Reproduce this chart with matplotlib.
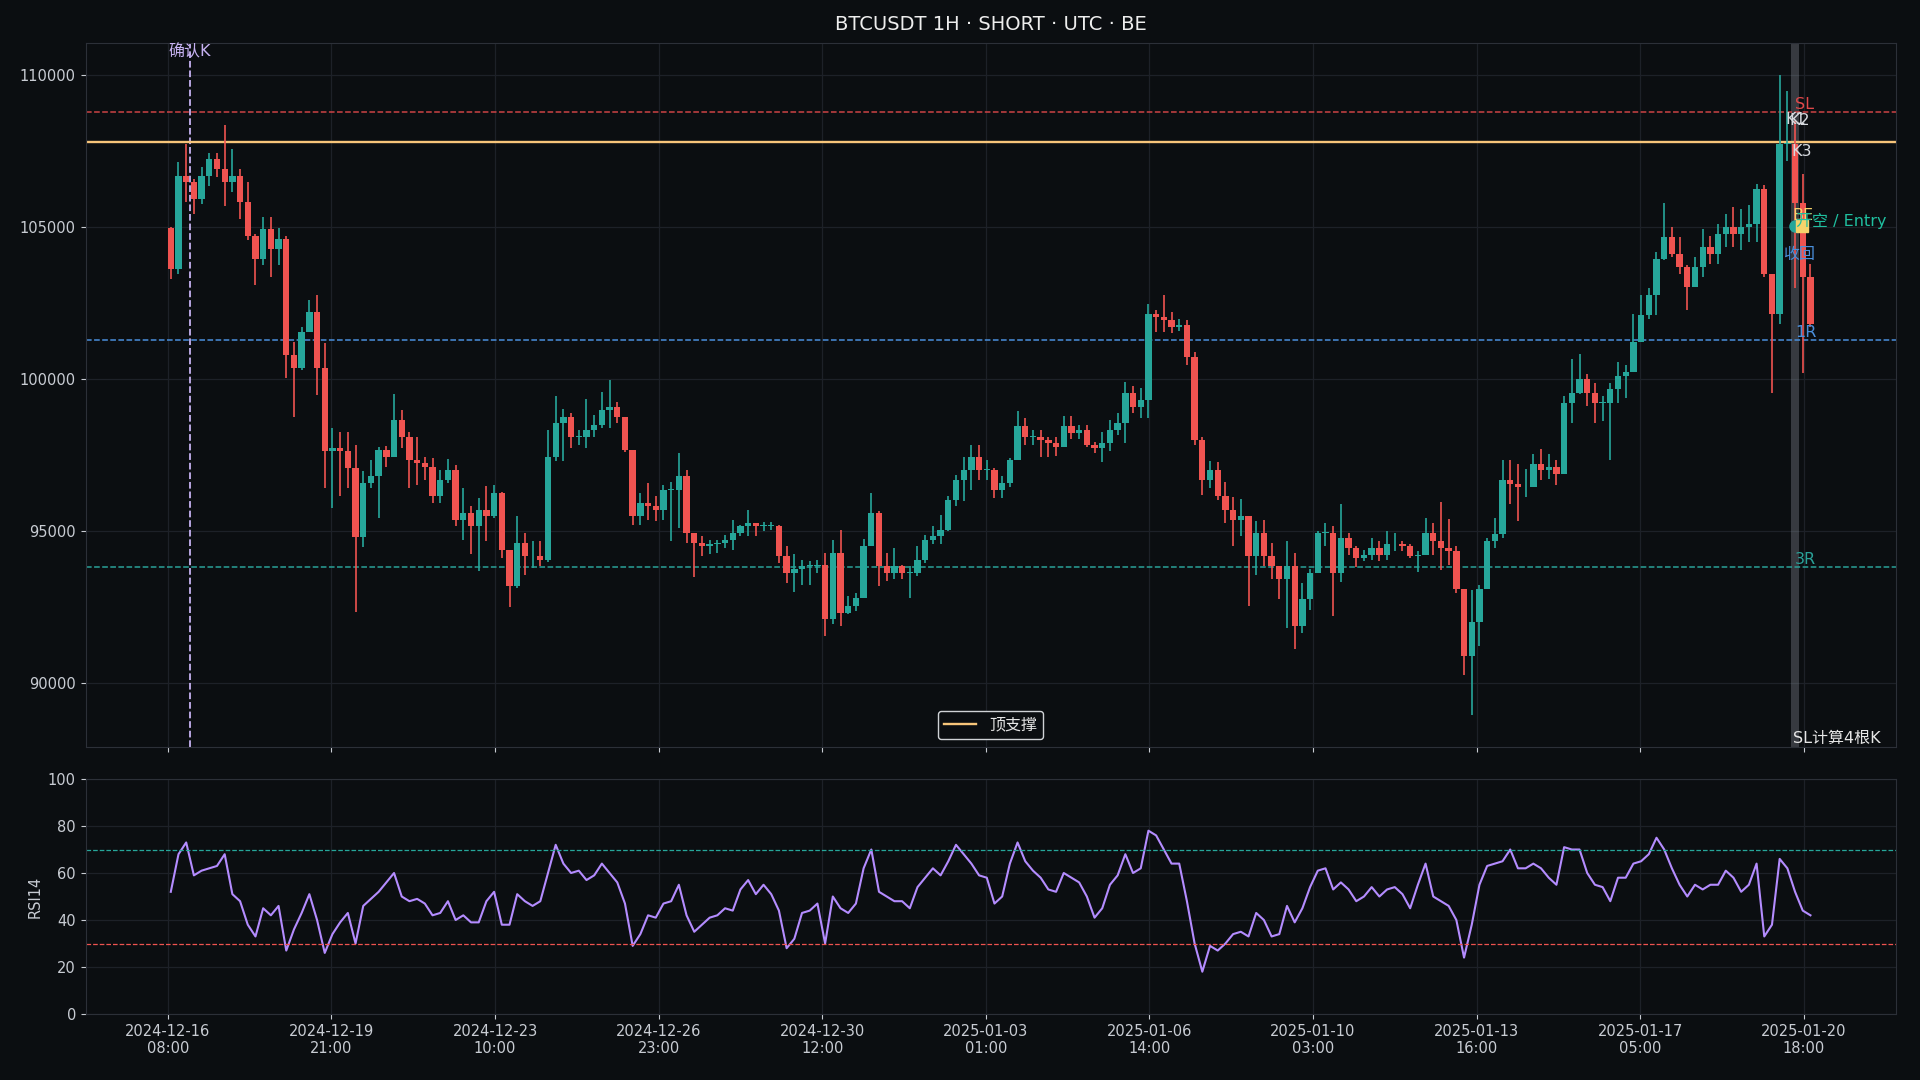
import matplotlib
matplotlib.use("Agg")
import matplotlib.pyplot as plt
import matplotlib.transforms as mtransforms
import numpy as np

plt.rcParams['font.family'] = ['DejaVu Sans', 'Noto Sans CJK SC']
plt.rcParams['axes.unicode_minus'] = False

# price, grouped in 4h blocks (x axis = hour index from 2024-12-16 08:00)
first_open = 104970
closes = [
    103640, 106700, 106500, 105930, 106700, 107250, 106920, 106480, 106700, 105830,
    104730, 103970, 104950, 104300, 104620, 100800, 100360, 101560, 102220, 100360,
    97630, 97740, 97630, 97080, 94800, 96600, 96810, 97680, 97460, 98660,
    98120, 97350, 97240, 97130, 96150, 96700, 97030, 95390, 95600, 95170,
    95710, 95500, 96260, 94400, 93200, 94620, 94180, 94180, 94070, 97460,
    98560, 98770, 98120, 98120, 98340, 98500, 98990, 99100, 98770, 97680,
    95500, 95930, 95820, 95710, 96370, 96370, 96810, 94950, 94620, 94510,
    94570, 94620, 94730, 94950, 95170, 95280, 95170, 95170, 95170, 94180,
    93640, 93750, 93860, 93860, 93910, 92110, 94290, 92330, 92540, 92820,
    94510, 95600, 93860, 93640, 93860, 93640, 93640, 94070, 94730, 94840,
    95060, 96040, 96700, 97030, 97460, 97030, 97030, 96370, 96590, 97350,
    98450, 98120, 98120, 98010, 97900, 97790, 98450, 98230, 98340, 97850,
    97740, 97900, 98340, 98560, 99540, 99100, 99320, 102160, 102050, 101940,
    101730, 101780, 100740, 98010, 96700, 97030, 96150, 95710, 95390, 95500,
    94180, 94950, 94180, 93860, 93420, 93860, 91890, 92760, 93640, 94950,
    94950, 93640, 94790, 94460, 94120, 94230, 94460, 94230, 94570, 94570,
    94510, 94180, 94230, 94960, 94680, 94460, 94340, 93120, 90900, 92010,
    93120, 94680, 94900, 96680, 96560, 96450, 96450, 97230, 97010, 97120,
    96900, 99230, 99560, 100010, 99560, 99230, 99230, 99670, 100120, 100230,
    101230, 102110, 102780, 103950, 104680, 104130, 103690, 103040, 103690, 104350,
    104130, 104790, 105000, 104790, 105000, 105110, 106260, 103470, 102160, 107740,
    107740, 105800, 103360, 101830,
]
highs = [
    105000, 107140, 107740, 106590, 106970, 107460, 107460, 108360, 107570, 106920,
    106480, 104790, 105330, 105330, 104970, 104730, 101230, 101730, 102600, 102760,
    101180, 98390, 98280, 98280, 97850, 97000, 97350, 97790, 97810, 99520,
    98990, 98280, 98120, 97460, 97410, 97030, 97380, 97190, 96420, 95820,
    96100, 96480, 96530, 96310, 94400, 95520, 94950, 94680, 94680, 98340,
    99450, 99010, 98880, 98340, 99340, 98830, 99590, 99980, 99270, 98450,
    97680, 96260, 96590, 96150, 96530, 96640, 97570, 97030, 94950, 94840,
    94730, 94730, 94890, 95390, 95220, 95710, 95250, 95300, 95300, 95220,
    94510, 94240, 94070, 94020, 94070, 94290, 94730, 95060, 92870, 92980,
    94750, 96260, 95660, 94290, 94460, 93910, 93860, 94530, 94890, 95190,
    95550, 96150, 96860, 97460, 97850, 97850, 97350, 97080, 96810, 97410,
    98960, 98720, 98340, 98320, 98120, 98120, 98800, 98800, 98500, 98500,
    97950, 98280, 98660, 98880, 99920, 99780, 99700, 102490, 102290, 102760,
    102220, 102000, 101940, 100910, 98100, 97300, 97270, 96610, 96130, 96070,
    95500, 95330, 95390, 94620, 93860, 94680, 94290, 93310, 93750, 95000,
    95280, 95170, 95900, 94960, 94510, 94400, 94790, 94700, 95000, 94960,
    94680, 94590, 94340, 95450, 95290, 95980, 95400, 94510, 93120, 93070,
    93230, 94790, 95450, 97340, 97340, 97230, 97060, 97560, 97710, 97560,
    97340, 99450, 100670, 100840, 100170, 99890, 99450, 99890, 100580, 100470,
    102140, 102780, 103000, 104200, 105790, 105000, 104680, 103750, 104020, 104950,
    104730, 105110, 105440, 105660, 105610, 105750, 106430, 106400, 103470, 110010,
    109490, 108500, 106750, 103800,
]
lows = [
    103310, 103480, 105820, 105440, 105770, 106370, 106640, 105710, 106150, 105280,
    104570, 103090, 103750, 103370, 103750, 100030, 98770, 100300, 101560, 99490,
    96420, 95770, 96150, 96420, 92360, 94500, 96420, 95440, 97130, 97460,
    97740, 96420, 96530, 96700, 95930, 95930, 96590, 95170, 94730, 94240,
    93690, 94680, 95440, 94130, 92520, 93150, 93580, 93800, 93860, 94000,
    97300, 97300, 97740, 97850, 97740, 98120, 98390, 98390, 98560, 97600,
    95220, 95220, 95390, 95330, 95390, 94680, 95110, 94620, 93510, 94180,
    94240, 94290, 94460, 94400, 94840, 94840, 94840, 95000, 95040, 93960,
    93310, 93010, 93250, 93250, 93640, 91560, 91940, 91890, 92270, 92380,
    92800, 94510, 93200, 93360, 93420, 93420, 92820, 93530, 93960, 94570,
    94570, 95000, 95820, 95990, 96370, 96700, 96700, 96100, 96100, 96460,
    97350, 97850, 97850, 97460, 97460, 97480, 97790, 98030, 98030, 97790,
    97570, 97270, 97660, 98170, 97900, 98880, 98720, 98720, 101560, 101560,
    101510, 101590, 100470, 97850, 96210, 96420, 96040, 95280, 94510, 94840,
    92540, 93580, 93860, 93420, 92760, 91830, 91120, 91670, 92430, 93640,
    94510, 92220, 93350, 94230, 93840, 94010, 94070, 94010, 94070, 94340,
    94340, 94120, 93680, 94230, 94230, 93730, 93900, 92960, 90290, 88960,
    91240, 93100, 94460, 94790, 95900, 95340, 96120, 96450, 96680, 96730,
    96510, 96900, 98560, 99510, 99140, 98560, 98620, 97340, 99230, 99400,
    100230, 101340, 102000, 102100, 103910, 104020, 103470, 102270, 103040, 103360,
    103800, 103800, 104350, 104350, 104240, 104510, 104510, 103360, 99540, 101830,
    107190, 103000, 100200, 101720,
]
rsi14 = [
    52, 68, 73, 59, 61, 62, 63, 68, 51, 48,
    38, 33, 45, 42, 46, 27, 36, 43, 51, 40,
    26, 34, 39, 43, 30, 46, 49, 52, 56, 60,
    50, 48, 49, 47, 42, 43, 48, 40, 42, 39,
    39, 48, 52, 38, 38, 51, 48, 46, 48, 60,
    72, 64, 60, 61, 57, 59, 64, 60, 56, 47,
    29, 34, 42, 41, 47, 48, 55, 42, 35, 38,
    41, 42, 45, 44, 53, 57, 51, 55, 51, 44,
    28, 32, 43, 44, 47, 30, 50, 45, 43, 47,
    62, 70, 52, 50, 48, 48, 45, 54, 58, 62,
    59, 65, 72, 68, 64, 59, 58, 47, 50, 64,
    73, 65, 61, 58, 53, 52, 60, 58, 56, 50,
    41, 45, 55, 59, 68, 60, 62, 78, 76, 70,
    64, 64, 48, 30, 18, 29, 27, 30, 34, 35,
    33, 43, 40, 33, 34, 46, 39, 45, 54, 61,
    62, 53, 56, 53, 48, 50, 54, 50, 53, 54,
    51, 45, 55, 64, 50, 48, 46, 40, 24, 38,
    55, 63, 64, 65, 70, 62, 62, 64, 62, 58,
    55, 71, 70, 70, 60, 55, 54, 48, 58, 58,
    64, 65, 68, 75, 70, 62, 55, 50, 55, 53,
    55, 55, 61, 58, 52, 55, 64, 33, 38, 66,
    62, 52, 44, 42,
]

n_hours = 856
tick_hours = [0, 85, 170, 255, 340, 425, 510, 595, 680, 765, 850]
tick_labels = ["2024-12-16\n08:00", "2024-12-19\n21:00", "2024-12-23\n10:00",
               "2024-12-26\n23:00", "2024-12-30\n12:00", "2025-01-03\n01:00",
               "2025-01-06\n14:00", "2025-01-10\n03:00", "2025-01-13\n16:00",
               "2025-01-17\n05:00", "2025-01-20\n18:00"]
price_ticks = [90000, 95000, 100000, 105000, 110000]

entry = 105040
stop = 108780
top_support = 107800
r1 = 101300
r3 = 93820
confirm_bar = 11.5
sl_window = (843.5, 847.5)

BG = '#0b0e11'
GRID = '#1d2128'
TXT = '#c8ccd3'
UP = '#26a69a'
DN = '#ef5350'
SPINE = '#2c3038'
FS = 11.5  # annotation size

fig = plt.figure(figsize=(19.2, 10.8), dpi=100, facecolor=BG)
ax = fig.add_axes([0.0446, 0.3083, 0.9427, 0.6519])
ax2 = fig.add_axes([0.0446, 0.0611, 0.9427, 0.2176])

for a in (ax, ax2):
    a.set_facecolor(BG)
    a.grid(True, color=GRID, lw=0.9)
    a.set_axisbelow(True)
    for s in a.spines.values():
        s.set_color(SPINE)
    a.tick_params(colors=TXT, labelsize=10.5)
    a.set_xticks(tick_hours)
    a.set_xlim(-0.05 * (n_hours - 1), 1.05 * (n_hours - 1))

# candles
c = np.array(closes, dtype=float)
o = np.array([first_open] + closes[:-1], dtype=float)
h = np.maximum(np.array(highs, dtype=float), np.maximum(o, c))
l = np.minimum(np.array(lows, dtype=float), np.minimum(o, c))
x = np.arange(len(c)) * 4 + 1.5
cols = np.where(c >= o, UP, DN)
ax.vlines(x, l, h, colors=cols, lw=1.2, zorder=2)
ax.bar(x, np.maximum(np.abs(c - o), 25), bottom=np.minimum(o, c), width=3.3,
       color=cols, lw=0, zorder=3)

pad = 0.05 * (h.max() - l.min())
ax.set_ylim(l.min() - pad, h.max() + pad)
ax.set_yticks(price_ticks)
ax.set_yticklabels([str(v) for v in price_ticks])
ax.set_xticklabels([])

ax.axhline(stop, color='#e0484a', ls='--', lw=1.1, alpha=0.9, zorder=1.5)
ax.axhline(top_support, color='#f7c57a', lw=1.7, zorder=1.6, label='顶支撑')
ax.axhline(r1, color='#4a8fdc', ls='--', lw=1.1, zorder=1.5)
ax.axhline(r3, color='#2aa198', ls='--', lw=1.1, zorder=1.5)
ax.axvline(confirm_bar, color='#c7b2f2', ls='--', lw=1.3, zorder=1.5)
ax.axvspan(*sl_window, color='#8a8f98', alpha=0.35, zorder=1.4, lw=0)

trans = mtransforms.blended_transform_factory(ax.transData, ax.transAxes)
ax.text(confirm_bar, 0.999, '确认K', transform=trans, ha='center', va='top',
        color='#c7b2f2', fontsize=FS)
ax.text(845.5, stop, 'SL', color='#e0484a', va='bottom', fontsize=FS)
ax.text(845.5, r1, '1R', color='#4a8fdc', va='bottom', fontsize=FS)
ax.text(845.5, r3, '3R', color='#2aa198', va='bottom', fontsize=FS)
ax.text(840.5, 108550, 'K1', color='#d6d9de', va='center', fontsize=FS)
ax.text(842.5, 108500, 'K2', color='#d6d9de', va='center', fontsize=FS)
ax.text(843.5, 107480, 'K3', color='#d6d9de', va='center', fontsize=FS)
ax.plot(845.5, entry, 'o', color=UP, ms=8, zorder=5)
ax.plot(849, entry, 's', color='#f7d36b', ms=9, zorder=6)
ax.text(844, 105400, 'BE', color='#f7d36b', va='center', fontsize=FS, zorder=7)
ax.text(846, 105200, '开空 / Entry', color='#1fbf9f', va='center', fontsize=FS, zorder=7)
ax.text(839.4, 104090, '收回', color='#4a8fdc', va='center', fontsize=FS, zorder=7)
ax.text(844.5, 0.001, 'SL计算4根K', transform=trans, color='#e6e6e6', va='bottom',
        fontsize=FS)

leg = ax.legend(loc='lower center', facecolor=BG, edgecolor='#cfd2d6', framealpha=1,
                fontsize=11.5)
for t in leg.get_texts():
    t.set_color('#e6e6e6')

# RSI panel
ax2.plot(x, rsi14, color='#b48cff', lw=1.5)
ax2.axhline(70, color='#26a69a', ls='--', lw=0.9)
ax2.axhline(30, color='#ef5350', ls='--', lw=0.9)
ax2.set_ylim(0, 100)
ax2.set_yticks([0, 20, 40, 60, 80, 100])
ax2.set_xticklabels(tick_labels)
ax2.set_ylabel('RSI14', color=TXT, fontsize=10.5)

fig.text(0.0446 + 0.9427 / 2, 0.977, 'BTCUSDT 1H · SHORT · UTC · BE', ha='center',
         va='center', color='#eeeeee', fontsize=14)

fig.savefig('out.png', dpi=100, facecolor=BG)
